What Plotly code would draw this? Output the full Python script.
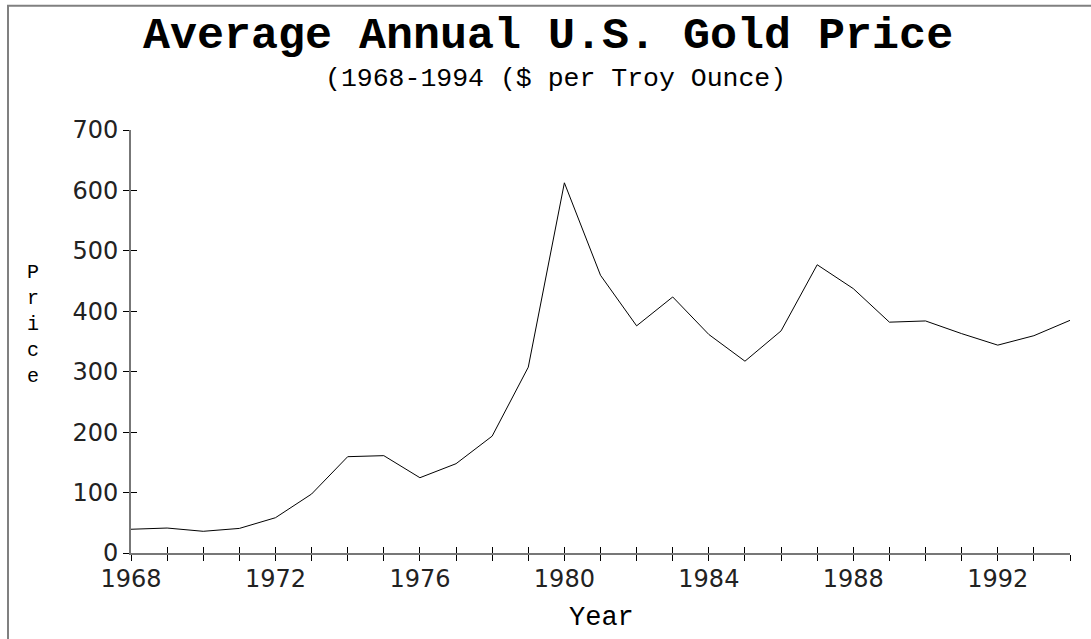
import plotly.graph_objects as go

years = list(range(1968, 1995))
prices = [39.3, 41.3, 35.9, 40.7, 58.4, 97.6, 159.4, 161.1, 124.6, 147.8, 193.4,
          307.5, 612.6, 459.6, 375.9, 423.7, 361.6, 317.4, 367.6, 477.0, 437.5,
          382.0, 384.0, 363.0, 344.0, 359.6, 385.0]
x_tick_vals = years
x_tick_text = [str(y) if (y - 1968) % 4 == 0 else "" for y in years]
y_tick_vals = [0, 100, 200, 300, 400, 500, 600, 700]

title_text = "Average Annual U.S. Gold Price"
subtitle_text = "(1968-1994 ($ per Troy Ounce)"
x_title = "Year"
y_title = "Price"

W, H = 1091, 639
L, R, T, B = 131, 21, 129.5, 85.7
PW, PH = W - L - R, H - T - B

def px(xp):
    return (xp - L) / PW

def py(yp):
    return (H - B - yp) / PH

mono = "Liberation Mono"
tickfont = dict(family="DejaVu Sans", size=24, color="#222")

fig = go.Figure()
fig.add_trace(go.Scatter(x=years, y=prices, mode="lines",
                         line=dict(color="black", width=1), showlegend=False,
                         hoverinfo="skip"))
# invisible trace to carry the inner-tick overlay axes
fig.add_trace(go.Scatter(x=[years[0]], y=[0], xaxis="x2", yaxis="y2",
                         mode="markers", marker=dict(opacity=0),
                         showlegend=False, hoverinfo="skip"))

common_x = dict(range=[1968, 1994], tickvals=x_tick_vals, showgrid=False,
                zeroline=False, ticklen=6, tickwidth=1, tickcolor="black")
common_y = dict(range=[0, 700], tickvals=y_tick_vals, showgrid=False,
                zeroline=False, ticklen=6, tickwidth=1, tickcolor="black")

fig.update_layout(
    width=W, height=H, autosize=False,
    margin=dict(l=L, r=R, t=T, b=B),
    paper_bgcolor="white", plot_bgcolor="white",
    xaxis=dict(**common_x, ticktext=x_tick_text, ticks="outside",
               showline=True, linecolor="#777", linewidth=2,
               tickfont=tickfont, ticklabelstandoff=-3),
    yaxis=dict(**common_y, ticks="outside", showline=True, linecolor="#777",
               linewidth=2, tickfont=tickfont),
    xaxis2=dict(**common_x, overlaying="x", ticks="inside", showline=False,
                showticklabels=False, anchor="y2"),
    yaxis2=dict(**common_y, overlaying="y", ticks="inside", showline=False,
                showticklabels=False, anchor="x2"),
    showlegend=False,
)

ann = [
    dict(text=f"<b>{title_text}</b>", x=px(W / 2 + 2), y=py(36),
         font=dict(family=mono, size=45, color="black")),
    dict(text=subtitle_text, x=px(W / 2 + 10), y=py(78),
         font=dict(family=mono, size=26.5, color="black")),
    dict(text=x_title, x=px(601), y=py(618),
         font=dict(family=mono, size=27, color="black")),
    dict(text="<br>".join(y_title), x=px(33), y=py(324),
         font=dict(family=mono, size=20, color="black")),
]
for a in ann:
    a.update(xref="paper", yref="paper", xanchor="center", yanchor="middle",
             showarrow=False)
fig.update_layout(annotations=ann)

fig.add_shape(type="rect", xref="paper", yref="paper",
              x0=px(8), x1=px(W + 40), y0=py(H + 40), y1=py(5),
              line=dict(color="#808080", width=2), fillcolor="rgba(0,0,0,0)")

fig.write_html("out.html", config={"displayModeBar": False},
               post_script="document.body.style.margin='0';")
